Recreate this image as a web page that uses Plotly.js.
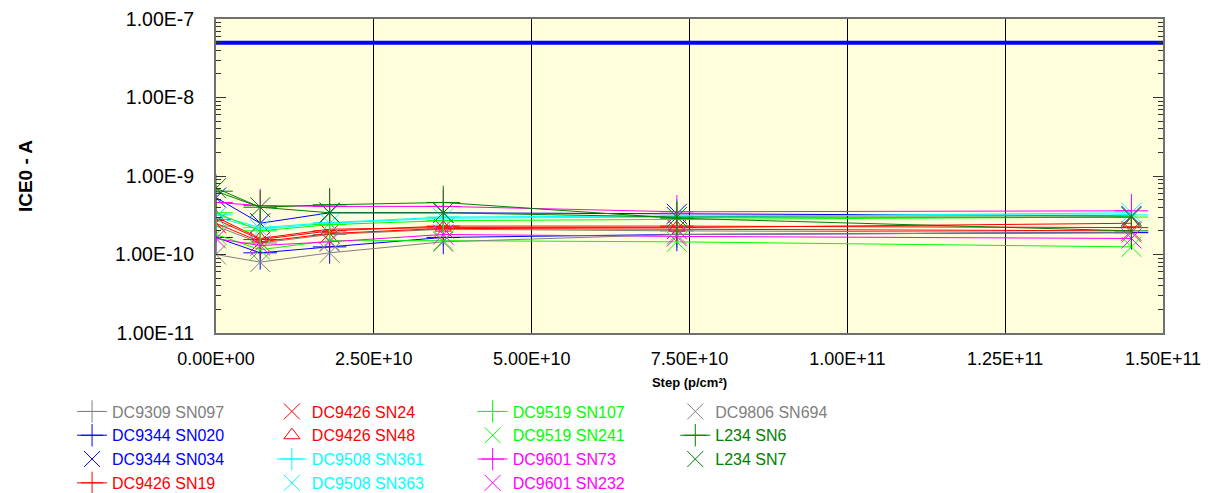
<!DOCTYPE html>
<html><head><meta charset="utf-8">
<script src="https://cdn.plot.ly/plotly-3.0.1.min.js"></script>
<style>html,body{margin:0;padding:0;background:#fff}#chart{width:1219px;height:493px}</style>
</head><body><div id="chart"></div>
<script>
const steps = [0, 7e9, 1.8e10, 3.6e10, 7.3e10, 1.45e11];
const limitX = [0, 1.5e11];
const limitY = [5e-8, 5e-8];

const names = ["DC9309 SN097","DC9344 SN020","DC9344 SN034","DC9426 SN19",
  "DC9426 SN24","DC9426 SN48","DC9508 SN361","DC9508 SN363",
  "DC9519 SN107","DC9519 SN241","DC9601 SN73","DC9601 SN232",
  "DC9806 SN694","L234 SN6","L234 SN7"];
const colors = ["#808080","#0000FF","#0000FF","#FF0000",
  "#FF0000","#FF0000","#00FFFF","#00FFFF",
  "#00FF00","#00FF00","#FF00FF","#FF00FF",
  "#808080","#008000","#008000"];
const symbols = ["cross-thin-open","cross-thin-open","x-thin-open","cross-thin-open",
  "x-thin-open","triangle-up-open","cross-thin-open","x-thin-open",
  "cross-thin-open","x-thin-open","cross-thin-open","x-thin-open",
  "x-thin-open","cross-thin-open","x-thin-open"];

const sn097 = [2.3e-10, 1.4e-10, 1.8e-10, 2.1e-10, 2.0e-10, 1.9e-10];
const sn020 = [1.65e-10, 1.05e-10, 1.25e-10, 1.65e-10, 1.8e-10, 1.9e-10];
const sn034 = [5.3e-10, 2.5e-10, 3.4e-10, 3.4e-10, 3.3e-10, 3.1e-10];
const sn19  = [2.8e-10, 1.55e-10, 2.0e-10, 2.3e-10, 2.3e-10, 2.2e-10];
const sn24  = [2.5e-10, 1.45e-10, 1.85e-10, 2.15e-10, 2.1e-10, 2.0e-10];
const sn48  = [3.0e-10, 1.6e-10, 2.1e-10, 2.2e-10, 2.2e-10, 2.5e-10];
const sn361 = [3.2e-10, 2.2e-10, 2.55e-10, 3.0e-10, 3.1e-10, 3.2e-10];
const sn363 = [3.0e-10, 2.1e-10, 2.5e-10, 2.9e-10, 3.0e-10, 3.4e-10];
const sn107 = [3.4e-10, 2.0e-10, 2.4e-10, 2.7e-10, 2.8e-10, 3.0e-10];
const sn241 = [1.8e-10, 1.15e-10, 1.5e-10, 1.5e-10, 1.45e-10, 1.25e-10];
const sn73  = [4.6e-10, 4.2e-10, 4.1e-10, 4.1e-10, 3.5e-10, 3.6e-10];
const sn232 = [1.6e-10, 1.3e-10, 1.45e-10, 1.8e-10, 1.7e-10, 1.6e-10];
const sn694 = [1.0e-10, 8.0e-11, 1.05e-10, 1.45e-10, 1.8e-10, 1.9e-10];
const l234sn6 = [6.4e-10, 4.0e-10, 4.3e-10, 4.6e-10, 2.9e-10, 2.0e-10];
const l234sn7 = [7.0e-10, 4.0e-10, 3.4e-10, 3.4e-10, 3.0e-10, 3.0e-10];
const series = [sn097, sn020, sn034, sn19, sn24, sn48, sn361, sn363, sn107, sn241, sn73, sn232, sn694, l234sn6, l234sn7];
const legendOf = ["legend","legend","legend","legend","legend2","legend2","legend2","legend2",
  "legend3","legend3","legend3","legend3","legend4","legend4","legend4"];

const xTicks = [0, 2.5e10, 5e10, 7.5e10, 1e11, 1.25e11, 1.5e11];
const xTickText = ["0.00E+00","2.50E+10","5.00E+10","7.50E+10","1.00E+11","1.25E+11","1.50E+11"];
const yTicks = [1e-11, 1e-10, 1e-9, 1e-8, 1e-7];
const yTickText = ["1.00E-11","1.00E-10","1.00E-9","1.00E-8","1.00E-7"];

const traces = [{
  x: limitX, y: limitY, mode: "lines", line: {color: "#0000FF", width: 4},
  showlegend: false, hoverinfo: "skip"
}];
series.forEach((s, i) => {
  const isCross = symbols[i].startsWith("cross");
  const mk = {symbol: symbols[i], size: isCross ? 24 : (symbols[i].startsWith("triangle") ? 14 : 20),
              color: colors[i], line: {color: colors[i], width: 1}};
  const label = '<span style="color:' + colors[i] + '">' + names[i] + '</span>';
  if (isCross) {
    traces.push({x: steps, y: s, type: "scatter", mode: "lines+markers", name: label,
      legend: legendOf[i], line: {color: colors[i], width: 1}, marker: mk});
  } else {
    traces.push({x: steps, y: s, type: "scatter", mode: "lines", showlegend: false,
      line: {color: colors[i], width: 1}, hoverinfo: "skip"});
    traces.push({x: steps, y: s, type: "scatter", mode: "markers", name: label,
      legend: legendOf[i], marker: mk});
  }
});

const legBase = {orientation: "v", xanchor: "left", yanchor: "top", y: -0.196,
  bgcolor: "rgba(0,0,0,0)", borderwidth: 0, tracegroupgap: 0,
  font: {family: "Liberation Sans, Arial, sans-serif", size: 16}};
const layout = {
  width: 1219, height: 493,
  margin: {l: 216, r: 56, t: 19, b: 160, autoexpand: false},
  paper_bgcolor: "#ffffff", plot_bgcolor: "#FFFDDC",
  font: {family: "Liberation Sans, Arial, sans-serif", color: "#000"},
  xaxis: {
    range: [0, 1.5e11], tickvals: xTicks, ticktext: xTickText,
    tickfont: {size: 18}, showgrid: true, gridcolor: "#000", gridwidth: 1,
    zeroline: false, showline: true, linecolor: "#707070", linewidth: 2, mirror: true,
    ticks: "", ticklabelstandoff: 8,
    title: {text: "<b>Step (p/cm²)</b>", font: {size: 13}, standoff: 10}
  },
  yaxis: {
    type: "log", range: [-11, -7], tickvals: yTicks, ticktext: yTickText,
    tickfont: {size: 19.5}, showgrid: false, zeroline: false,
    showline: true, linecolor: "#707070", linewidth: 2, mirror: "ticks",
    ticks: "inside", ticklen: 10, tickcolor: "#333", ticklabelstandoff: 16,
    minor: {ticks: "inside", ticklen: 5, dtick: "D1", tickcolor: "#333", showgrid: false},
    title: {text: "<b>ICE0 - A</b>", font: {size: 19}, standoff: 77}
  },
  legend: Object.assign({}, legBase, {x: -0.152}),
  legend2: Object.assign({}, legBase, {x: 0.059}),
  legend3: Object.assign({}, legBase, {x: 0.271}),
  legend4: Object.assign({}, legBase, {x: 0.485}),
  showlegend: true
};
Plotly.newPlot("chart", traces, layout, {displayModeBar: false, staticPlot: true});
</script></body></html>
